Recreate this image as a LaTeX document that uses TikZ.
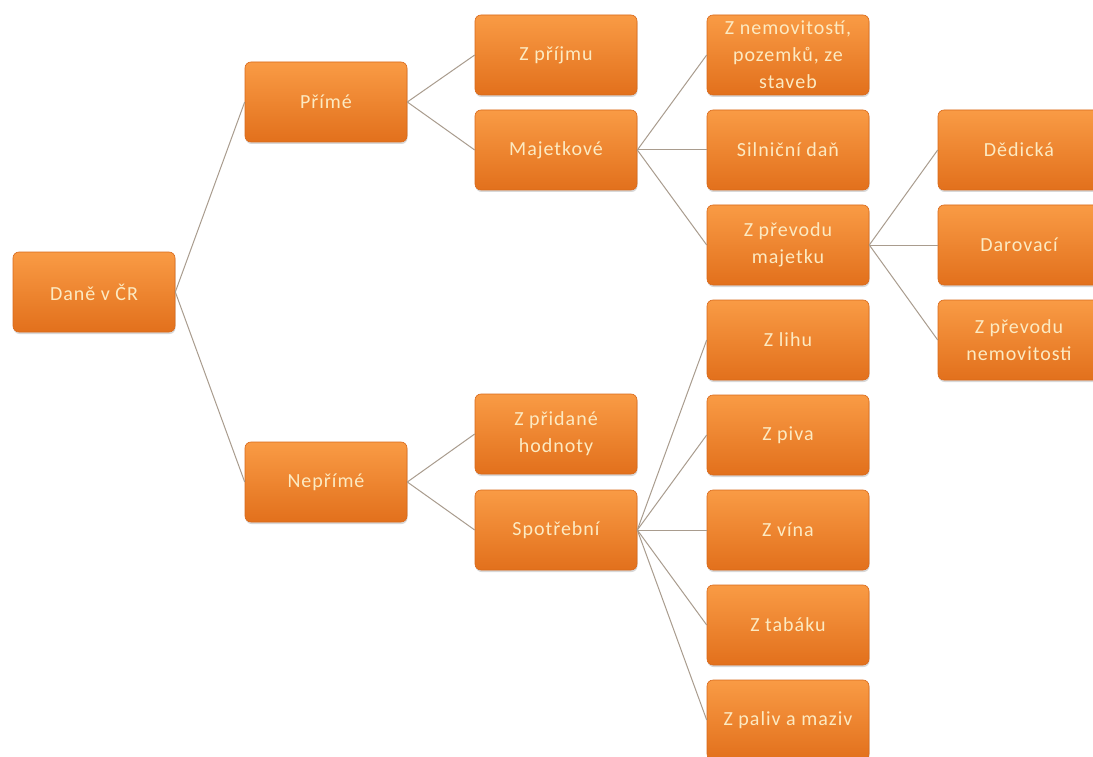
\documentclass[tikz,border=0pt]{standalone}
\usepackage{fontspec}
\setmainfont{Carlito}[LetterSpace=5]
\usetikzlibrary{shadows}
\definecolor{boxtop}{HTML}{F99B45}
\definecolor{boxbot}{HTML}{E2701C}
\definecolor{boxedge}{HTML}{D9691A}
\definecolor{txt}{HTML}{FCEAC2}
\definecolor{conn}{HTML}{A99C8E}
\tikzset{
  taxbox/.style={rectangle, rounded corners=6pt, minimum width=162pt, minimum height=80pt,
    inner sep=0pt, align=center, top color=boxtop, bottom color=boxbot, draw=boxedge, line width=0.6pt,
    text=txt, font=\fontsize{20}{27}\selectfont,
    drop shadow={shadow xshift=0.5pt, shadow yshift=-2pt, opacity=0.3}},
  link/.style={draw=conn, line width=1pt}
}
\begin{document}
\begin{tikzpicture}[x=1pt,y=-1pt]
\clip (0,0) rectangle (1093,757);
\fill[white] (0,0) rectangle (1093,757);
\node[taxbox] (root) at (94,292) {Daně v ČR};
\node[taxbox] (prime) at (326,102) {Přímé};
\node[taxbox] (neprime) at (326,482) {Nepřímé};
\node[taxbox] (prijem) at (556,55) {Z příjmu};
\node[taxbox] (majet) at (556,150) {Majetkové};
\node[taxbox] (dph) at (556,434) {Z přidané\\hodnoty};
\node[taxbox] (spotr) at (556,530) {Spotřební};
\node[taxbox] (nemov) at (788,55) {Z nemovitostí,\\pozemků, ze\\staveb};
\node[taxbox] (silni) at (788,150) {Silniční daň};
\node[taxbox] (prevod) at (788,245) {Z převodu\\majetku};
\node[taxbox] (lih) at (788,340) {Z lihu};
\node[taxbox] (pivo) at (788,435) {Z piva};
\node[taxbox] (vino) at (788,530) {Z vína};
\node[taxbox] (tabak) at (788,625) {Z tabáku};
\node[taxbox] (paliv) at (788,720) {Z paliv a maziv};
\node[taxbox] (dedic) at (1019,150) {Dědická};
\node[taxbox] (darov) at (1019,245) {Darovací};
\node[taxbox] (prevnem) at (1019,340) {Z převodu\\nemovitosti};
\foreach \a/\b in {root/prime, root/neprime, prime/prijem, prime/majet,
  neprime/dph, neprime/spotr, majet/nemov, majet/silni, majet/prevod,
  prevod/dedic, prevod/darov, prevod/prevnem,
  spotr/lih, spotr/pivo, spotr/vino, spotr/tabak, spotr/paliv}
  \draw[link] (\a.east) -- (\b.west);
\end{tikzpicture}
\end{document}
